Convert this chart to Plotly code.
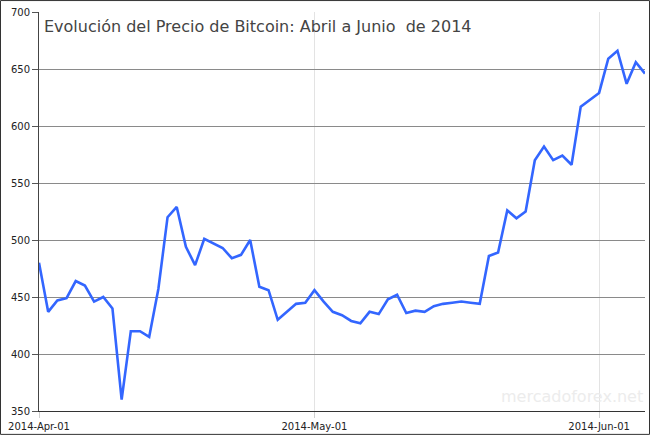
import pandas as pd
import plotly.graph_objects as go

# Daily Bitcoin price, 2014-04-01 .. 2014-06-06
start_date = "2014-04-01"
end_date = "2014-06-06"
april_prices = [480, 437, 447, 449, 464, 460, 446, 450, 440, 360,
                420, 420, 415, 457, 520, 529, 494, 478, 501, 497,
                493, 484, 487, 500, 459, 456, 430, 437, 444, 445]
may_prices = [456, 446, 437, 434, 429, 427, 437, 435, 448, 452,
              436, 438, 437, 442, 444, 445, 446, 445, 444, 486,
              489, 526, 519, 525, 570, 582, 570, 574, 566, 617, 623]
june_prices = [629, 659, 666, 637, 656, 646]

title_text = "Evolución del Precio de Bitcoin: Abril a Junio  de 2014"
watermark_text = "mercadoforex.net"
y_ticks = [350, 400, 450, 500, 550, 600, 650, 700]
x_ticks = ["2014-04-01", "2014-05-01", "2014-06-01"]

prices = april_prices + may_prices + june_prices
dates = pd.date_range(start_date, periods=len(prices), freq="D")

W, H = 650, 437
ML, MR, MT, MB = 39, 5, 12, 24
PW, PH = W - ML - MR, H - MT - MB

fig = go.Figure()
fig.add_trace(go.Scatter(
    x=dates, y=prices, mode="lines",
    line=dict(color="#3366ff", width=2.6),
    hoverinfo="x+y", showlegend=False,
))

fig.update_layout(
    width=W, height=H,
    margin=dict(l=ML, r=MR, t=MT, b=MB, pad=0),
    paper_bgcolor="white", plot_bgcolor="white",
    font=dict(family="DejaVu Sans", size=10, color="#222"),
    xaxis=dict(
        range=[start_date, end_date],
        tickvals=x_ticks, tickformat="%Y-%b-%d",
        showgrid=True, gridcolor="#e3e3e3", gridwidth=1,
        ticks="outside", ticklen=6, tickcolor="#d0d0d0",
        showline=True, linecolor="#333", linewidth=1,
        zeroline=False, tickfont=dict(size=10, color="#222"),
    ),
    yaxis=dict(
        range=[350, 700], tickvals=y_ticks,
        showgrid=True, gridcolor="#8a8a8a", gridwidth=1,
        ticks="outside", ticklen=6, tickcolor="#555",
        showline=True, linecolor="#444", linewidth=1,
        zeroline=False, tickfont=dict(size=10, color="#222"),
    ),
    annotations=[
        dict(text=title_text, xref="paper", yref="paper",
             x=3 / PW, y=1 - 3 / PH, xanchor="left", yanchor="top",
             showarrow=False,
             font=dict(family="DejaVu Sans", size=16, color="#444")),
        dict(text=watermark_text, xref="paper", yref="paper",
             x=1, y=3 / PH, xanchor="right", yanchor="bottom",
             showarrow=False,
             font=dict(family="DejaVu Sans", size=16, color="#ececec")),
    ],
    shapes=[
        dict(type="rect", xref="paper", yref="paper",
             x0=(0.5 - ML) / PW, x1=(W - 0.5 - ML) / PW,
             y0=-(MB - 0.5) / PH, y1=1 + (MT - 0.5) / PH,
             line=dict(color="#333", width=1), layer="above"),
    ],
)

fig.write_html(
    "out.html",
    config={"displayModeBar": False},
    post_script="document.body.style.margin='0';document.body.style.padding='0';",
)
